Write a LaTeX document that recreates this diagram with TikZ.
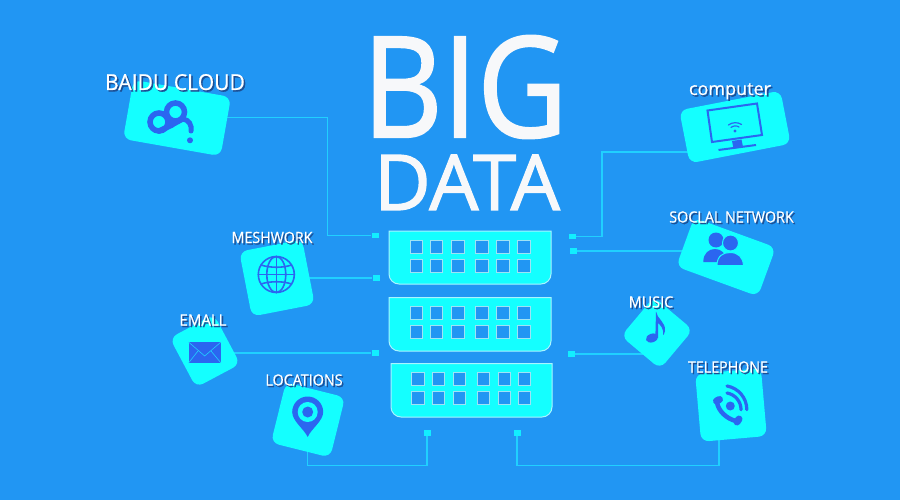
\documentclass[tikz,border=0pt]{standalone}
\usepackage{fontspec}
\setmainfont{Open Sans}
\newfontfamily\titlefont{Open Sans}[FakeBold=1.6]
\newfontfamily\labelfont{Open Sans}[FakeBold=0.5]
\pgfdeclarelayer{sky}
\pgfdeclarelayer{back}
\pgfsetlayers{sky,back,main}
\definecolor{bgblue}{HTML}{2196F3}
\definecolor{tilecy}{HTML}{14FFFF}
\definecolor{iconbl}{HTML}{2B66F0}
\definecolor{wirecy}{HTML}{20D0FF}
\definecolor{termcy}{HTML}{12EEFF}
\definecolor{rimcol}{HTML}{A8F4FF}
\definecolor{cellrim}{HTML}{9FE3F5}
\definecolor{shade}{HTML}{1B4F95}
\definecolor{titlewh}{HTML}{F7F8FA}
\newcommand{\shd}[1]{\rlap{\hspace{1.6pt}\raisebox{-1.6pt}{\textcolor{shade}{#1}}}#1}
\newcommand{\cellrow}[2]{\foreach \cx in {#1}{\node[cell] at (\cx,#2) {};}}
\tikzset{
  tile/.style={fill=tilecy,rounded corners=8pt,inner sep=0pt,draw=none},
  wire/.style={draw=wirecy,line width=1.3pt,line join=miter},
  term/.style={fill=termcy,minimum width=7pt,minimum height=5.5pt,inner sep=0pt},
  rack/.style={fill=tilecy,draw=rimcol,line width=1pt},
  cell/.style={fill=bgblue,draw=cellrim,line width=1pt,minimum size=12.5pt,inner sep=0pt},
  lbl/.style={text=white,anchor=base,inner sep=0pt,font=\labelfont},
  big/.style={text=titlewh,anchor=base,inner sep=0pt,font=\titlefont},
  iconl/.style={draw=iconbl,fill=none,line cap=round},
}
\begin{document}
\begin{tikzpicture}[x=1pt,y=-1pt]
\useasboundingbox (0,0) rectangle (900,500);
\begin{pgfonlayer}{sky}
\fill[bgblue] (0,0) rectangle (900,500);
\end{pgfonlayer}

% tiles
\node[tile,minimum width=99pt,minimum height=60pt,rotate=-10] (baidu) at (177,118) {};
\node[tile,minimum width=103pt,minimum height=54pt,rotate=11] (computer) at (735,127) {};
\node[tile,minimum width=87pt,minimum height=52pt,rotate=-20] (social) at (726,257) {};
\node[tile,minimum width=64pt,minimum height=66pt,rotate=11] (mesh) at (277,278) {};
\node[tile,minimum width=50pt,minimum height=56pt,rotate=28] (email) at (205,351) {};
\node[tile,minimum width=61pt,minimum height=62pt,rotate=-14] (locations) at (308,420) {};
\node[tile,minimum width=51pt,minimum height=51pt,rotate=-40] (music) at (657,333) {};
\node[tile,minimum width=66pt,minimum height=68pt,rotate=5] (telephone) at (731,405) {};

% terminals
\node[term] (tL1) at (375,235.5) {};
\node[term] (tL2) at (376,278) {};
\node[term] (tL3) at (375,353) {};
\node[term] (tR1) at (572.5,236.5) {};
\node[term] (tR2) at (573,251) {};
\node[term] (tR3) at (571,354) {};
\node[term] (tB1) at (427,433) {};
\node[term] (tB2) at (517,433) {};

% wire corners
\coordinate (cBaidu) at (327.7,117.7);
\coordinate (cComp) at (602,152);
\coordinate (cLoc) at (307.7,465.7);
\coordinate (cTel) at (719,465.7);

\begin{pgfonlayer}{back}
\draw[wire] (baidu |- cBaidu) -- (cBaidu) -- (cBaidu |- tL1) -- (tL1);
\draw[wire] (mesh |- tL2) -- (tL2);
\draw[wire] (email |- tL3) -- (tL3);
\draw[wire] (cLoc |- locations) -- (cLoc) -- (cLoc -| tB1) -- (tB1);
\draw[wire] (cTel |- telephone) -- (cTel) -- (cTel -| tB2) -- (tB2);
\draw[wire] (computer |- cComp) -- (cComp) -- (cComp |- tR1) -- (tR1);
\draw[wire] (social |- tR2) -- (tR2);
\draw[wire] (music |- tR3) -- (tR3);
\end{pgfonlayer}

% racks
\draw[rack] (389,231) -- (551,231) -- (551,274) arc[start angle=0,end angle=90,radius=10] -- (399,284) arc[start angle=90,end angle=180,radius=10] -- cycle;
\draw[rack] (389,297.5) -- (551,297.5) -- (551,341) arc[start angle=0,end angle=90,radius=10] -- (399,351) arc[start angle=90,end angle=180,radius=10] -- cycle;
\draw[rack] (391,363.5) -- (552,363.5) -- (552,407) arc[start angle=0,end angle=90,radius=10] -- (401,417) arc[start angle=90,end angle=180,radius=10] -- cycle;
\cellrow{416.3,436.5,458,482,503,523.8}{247}
\cellrow{416.3,436.5,458,482,503,523.8}{266}
\cellrow{416.3,436.5,458,482,503,523.8}{313}
\cellrow{416.3,436.5,458,482,503,523.8}{332}
\cellrow{417.8,438.3,459.3,483.6,504.5,524.5}{379}
\cellrow{417.8,438.3,459.3,483.6,504.5,524.5}{398}

% baidu icon
\draw[iconl,line width=5.5pt] (159,122) circle[radius=9];
\draw[iconl,line width=5.5pt] (175.5,112) circle[radius=9];
\draw[iconl,line width=5.5pt] (159,131) -- (172,125) (167,116) -- (170,121);
\draw[iconl,line width=5pt] (172,125) -- (183,119) .. controls (189,120) and (192,125) .. (191,131);
\fill[iconbl] (190,140.3) circle[radius=3];

% globe icon
\begin{scope}[iconl,line width=1.6pt]
\draw (276.3,274.5) circle[radius=18];
\draw (276.3,274.5) ellipse[x radius=9.5,y radius=18];
\draw (276.3,256.5) -- (276.3,292.5);
\draw (258.3,274.5) -- (294.3,274.5);
\draw (261,265) .. controls (270,268) and (283,268) .. (291.5,265);
\draw (261,284) .. controls (270,281) and (283,281) .. (291.5,284);
\end{scope}

% envelope icon
\fill[iconbl] (188.5,342) rectangle (221,363);
\draw[wirecy,line width=.6pt] (188.5,342) -- (204.7,356) -- (221,342);
\draw[wirecy,line width=.6pt] (188.5,363) -- (198,351) (221,363) -- (211,351);

% pin icon
\fill[iconbl] (307.7,437) .. controls (304,429) and (292.2,421) .. (292.2,412) arc[start angle=180,end angle=360,radius=15.5] .. controls (323.2,421) and (311,429) .. (307.7,437) -- cycle;
\fill[tilecy] (307.7,412) circle[radius=10];
\fill[iconbl] (307.7,412) circle[radius=5.5];

% computer icon
\draw[iconbl,line width=2pt] (707.5,110.5) -- (757,103.5) -- (762,135) -- (712,142) -- cycle;
\fill[iconbl] (732,141) -- (741.5,139.5) -- (743,147) -- (733.5,148.5) -- cycle;
\draw[iconbl,line width=2pt] (718.5,150) -- (756,145);
\fill[iconbl] (735,131) circle[radius=1.7];
\draw[iconl,line width=1.2pt] (731,127.5) .. controls (733,125.5) and (737,125.5) .. (739,127);
\draw[iconl,line width=1.2pt] (728.5,125) .. controls (732,122) and (738,122) .. (741.5,124.5);

% people icon
\fill[iconbl] (716,240) circle[radius=7.5];
\fill[iconbl] (703.3,262) .. controls (703.3,253) and (709,249) .. (715,249) .. controls (721,249) and (726,253) .. (727,262) -- cycle;
\draw[tilecy,line width=1pt,fill=iconbl] (730.5,243) circle[radius=8];
\draw[tilecy,line width=1pt,fill=iconbl] (717,265.5) .. controls (717,256) and (723,252.5) .. (730,252.5) .. controls (738,252.5) and (743,257) .. (743.5,265.5) -- cycle;

% music icon
\fill[iconbl,rotate around={20:(652,338)}] (652,338) ellipse[x radius=6.3,y radius=4.3];
\fill[iconbl] (655.3,339) -- (656,311.5) .. controls (657,319) and (666,322) .. (665,331) .. controls (664.5,334) and (663.5,335) .. (663,335) .. controls (664,328) and (660,325) .. (658,323) -- (658,338) -- cycle;

% phone icon
\draw[iconl,line width=4.5pt] (717,402) .. controls (718,411) and (727,419) .. (736,421);
\draw[iconl,line width=7pt] (716.5,401) -- (719.5,399.5);
\draw[iconl,line width=7pt] (737,422) -- (739,419);
\fill[iconbl] (730.3,406) circle[radius=4.5];
\draw[iconl,line width=3.2pt] (727,393) arc[start angle=-80,end angle=0,radius=17];
\draw[iconl,line width=3.2pt] (727,386) arc[start angle=-80,end angle=0,radius=24];

% labels
\node[lbl,xscale=.96] (lBaidu) at (175,90) {\fontsize{22}{23}\selectfont\shd{BAIDU CLOUD}};
\node[lbl,xscale=.92] (lMesh) at (272,243) {\fontsize{15.5}{16}\selectfont\shd{MESHWORK}};
\node[lbl,xscale=.97] (lEmail) at (203,325.5) {\fontsize{15.5}{16}\selectfont\shd{EMALL}};
\node[lbl,xscale=.925] (lLoc) at (304,385.5) {\fontsize{15.5}{16}\selectfont\shd{LOCATIONS}};
\node[lbl] (lComp) at (730,95) {\fontsize{18}{19}\selectfont\shd{computer}};
\node[lbl,xscale=.925] (lSoc) at (731.5,222.5) {\fontsize{15.5}{16}\selectfont\shd{SOCLAL NETWORK}};
\node[lbl,xscale=.93] (lMusic) at (651,307.5) {\fontsize{15.5}{16}\selectfont\shd{MUSIC}};
\node[lbl,xscale=.92] (lTel) at (728,372.5) {\fontsize{15.5}{16}\selectfont\shd{TELEPHONE}};

% title
\node[big,xscale=.885] (tBig) at (465,137) {\fontsize{140}{120}\selectfont BIG};
\node[big,xscale=1.01] (tData) at (467,210) {\fontsize{77}{60}\selectfont DATA};
\end{tikzpicture}
\end{document}
